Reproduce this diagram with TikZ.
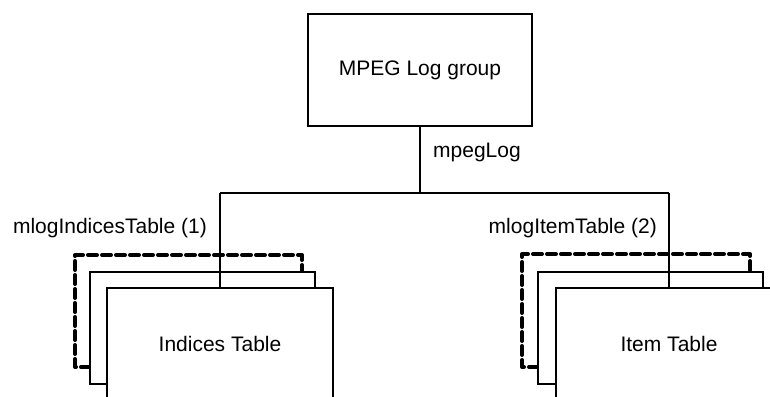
\documentclass[tikz,border=0pt]{standalone}
\usepackage{fontspec}
\setmainfont{Liberation Sans}
\begin{document}
\begin{tikzpicture}[x=1pt,y=-1pt,
  line/.style={line width=2pt},
  box/.style={draw,line width=2pt,fill=white,inner sep=0pt,font=\fontsize{21}{24}\selectfont},
  shadowbox/.style={draw,line width=4pt,dash pattern=on 9pt off 5pt,line cap=round,line join=round},
  lbl/.style={font=\fontsize{21}{24}\selectfont,inner sep=0pt}]
\useasboundingbox (0,0) rectangle (770,396);
\clip (0,0) rectangle (770,396);
% top box
\node[box,minimum width=224pt,minimum height=112pt] (top) at (420,70) {MPEG Log group};
\node[lbl,anchor=west] (mpeglog) at (433,152) {mpegLog};
% left stack
\draw[shadowbox] (90,367) -- (75,367) -- (75,255) -- (302,255) -- (302,272);
\node[box,minimum width=225pt,minimum height=112pt] (midL) at (202.5,328) {};
\node[box,minimum width=226pt,minimum height=112pt] (frontL) at (220,344) {Indices Table};
% right stack
\draw[shadowbox] (538,367) -- (522,367) -- (522,254) -- (750,254) -- (750,272);
\node[box,minimum width=225pt,minimum height=112pt] (midR) at (650.5,328) {};
\node[box,minimum width=226pt,minimum height=112pt] (frontR) at (669,344) {Item Table};
% labels
\node[lbl,anchor=east] (labL) at (207,228) {mlogIndicesTable (1)};
\node[lbl,anchor=east] (labR) at (657,228) {mlogItemTable (2)};
% connectors
\coordinate (bus) at (top.south |- 0,193);
\coordinate (busL) at (frontL.north |- 0,193);
\coordinate (busR) at (frontR.north |- 0,193);
\draw[line] (top.south) -- (bus);
\draw[line] (busL) -- (busR);
\draw[line] (busL) -- (frontL.north);
\draw[line] (busR) -- (frontR.north);
\end{tikzpicture}
\end{document}
